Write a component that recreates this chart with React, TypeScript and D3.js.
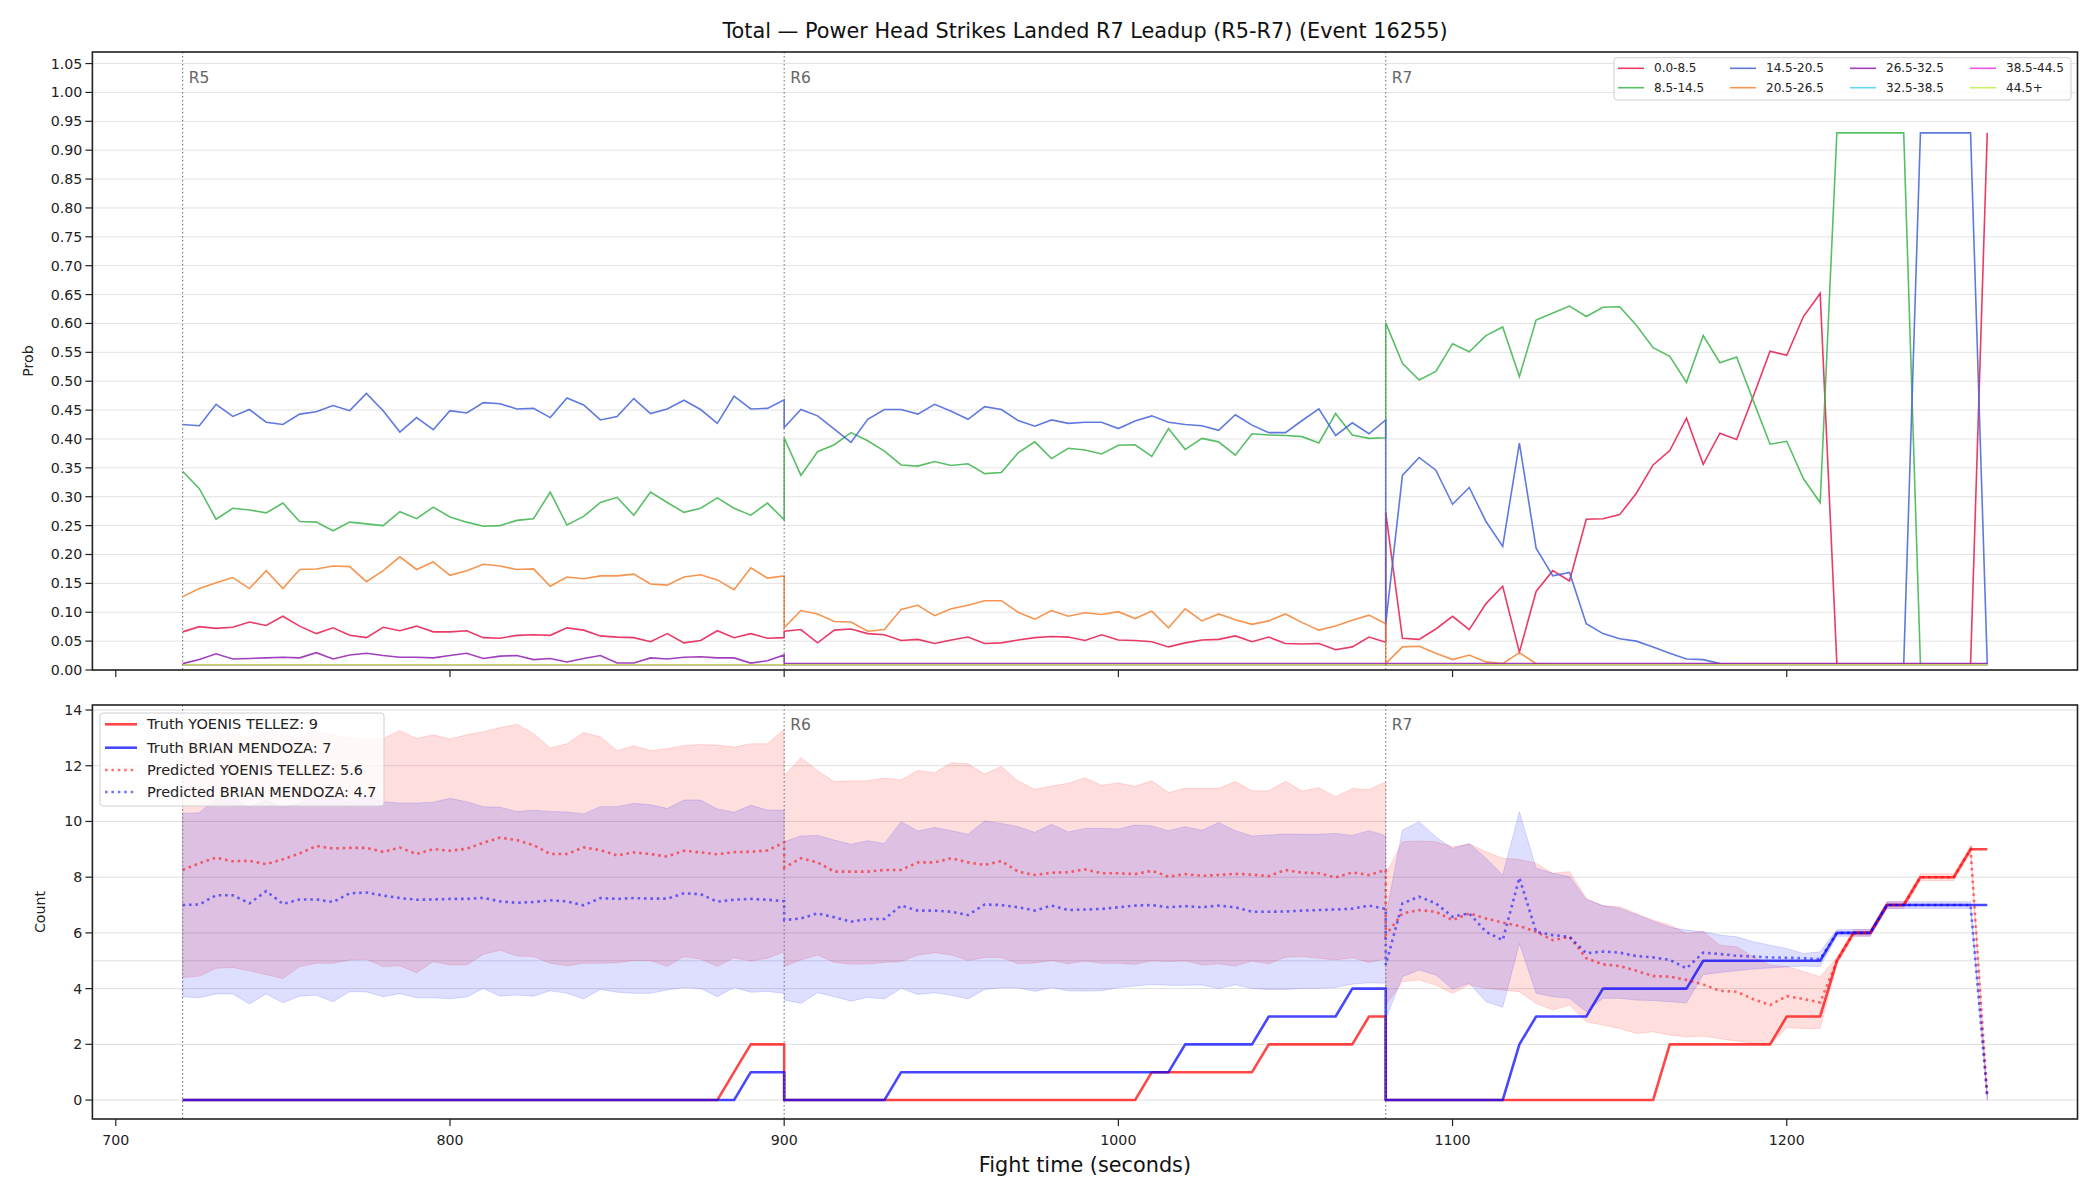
import * as d3 from "d3";

const chartTitle = "Total — Power Head Strikes Landed R7 Leadup (R5-R7) (Event 16255)";
const roundNames = ["R5", "R6", "R7"];
const roundStarts = [720, 900, 1080];
const stepSeconds = 5;
const samplesPerRound = 37;

const bucketNames = ["0.0-8.5", "8.5-14.5", "14.5-20.5", "20.5-26.5", "26.5-32.5", "32.5-38.5", "38.5-44.5", "44.5+"];
const bucketColors = ["#e6194b", "#3cb44b", "#4363d8", "#f58231", "#911eb4", "#42d4f4", "#f032e6", "#bfef45"];

// bucket probabilities, 5 s samples, one array per round
const prob0to8_r5 = [0.066, 0.075, 0.072, 0.074, 0.083, 0.077, 0.093, 0.076, 0.063, 0.073, 0.060, 0.056, 0.074, 0.068, 0.076, 0.066, 0.066, 0.068, 0.056, 0.055, 0.060, 0.061, 0.060, 0.073, 0.069, 0.059, 0.057, 0.056, 0.049, 0.063, 0.047, 0.051, 0.068, 0.056, 0.063, 0.055, 0.056];
const prob0to8_r6 = [0.067, 0.070, 0.047, 0.069, 0.071, 0.063, 0.061, 0.051, 0.053, 0.046, 0.052, 0.057, 0.046, 0.047, 0.052, 0.056, 0.058, 0.057, 0.051, 0.061, 0.052, 0.051, 0.049, 0.040, 0.047, 0.052, 0.053, 0.059, 0.049, 0.057, 0.046, 0.045, 0.046, 0.035, 0.040, 0.057, 0.048];
const prob0to8_r7 = [0.273, 0.055, 0.053, 0.071, 0.093, 0.070, 0.115, 0.145, 0.031, 0.136, 0.172, 0.154, 0.261, 0.262, 0.269, 0.306, 0.355, 0.380, 0.436, 0.356, 0.410, 0.399, 0.474, 0.552, 0.545, 0.612, 0.652, 0.010, 0.010, 0.010, 0.010, 0.010, 0.010, 0.010, 0.010, 0.010, 0.930];

const prob8to14_r5 = [0.344, 0.314, 0.261, 0.280, 0.277, 0.272, 0.289, 0.257, 0.256, 0.241, 0.256, 0.253, 0.250, 0.274, 0.262, 0.282, 0.265, 0.256, 0.249, 0.250, 0.259, 0.262, 0.308, 0.251, 0.266, 0.290, 0.299, 0.268, 0.308, 0.290, 0.273, 0.280, 0.298, 0.280, 0.268, 0.289, 0.260];
const prob8to14_r6 = [0.402, 0.337, 0.378, 0.390, 0.411, 0.397, 0.379, 0.355, 0.353, 0.361, 0.354, 0.357, 0.340, 0.342, 0.376, 0.395, 0.366, 0.384, 0.381, 0.374, 0.389, 0.390, 0.370, 0.418, 0.382, 0.401, 0.395, 0.372, 0.409, 0.407, 0.406, 0.404, 0.393, 0.444, 0.407, 0.401, 0.402];
const prob8to14_r7 = [0.601, 0.531, 0.502, 0.517, 0.565, 0.551, 0.579, 0.594, 0.508, 0.606, 0.618, 0.630, 0.612, 0.628, 0.629, 0.597, 0.558, 0.543, 0.498, 0.579, 0.532, 0.542, 0.466, 0.391, 0.396, 0.331, 0.290, 0.930, 0.930, 0.930, 0.930, 0.930, 0.010, 0.010, 0.010, 0.010, 0.010];

const prob14to20_r5 = [0.425, 0.423, 0.460, 0.439, 0.451, 0.429, 0.425, 0.443, 0.447, 0.458, 0.449, 0.479, 0.449, 0.412, 0.437, 0.416, 0.449, 0.445, 0.463, 0.461, 0.452, 0.453, 0.437, 0.471, 0.459, 0.433, 0.439, 0.470, 0.444, 0.452, 0.467, 0.451, 0.427, 0.474, 0.452, 0.453, 0.468];
const prob14to20_r6 = [0.420, 0.451, 0.440, 0.417, 0.394, 0.434, 0.451, 0.451, 0.443, 0.460, 0.448, 0.434, 0.456, 0.451, 0.432, 0.422, 0.433, 0.427, 0.429, 0.429, 0.418, 0.431, 0.440, 0.429, 0.425, 0.423, 0.415, 0.442, 0.424, 0.411, 0.411, 0.432, 0.452, 0.406, 0.428, 0.409, 0.433];
const prob14to20_r7 = [0.080, 0.337, 0.368, 0.346, 0.287, 0.316, 0.257, 0.214, 0.393, 0.211, 0.163, 0.169, 0.080, 0.063, 0.054, 0.050, 0.040, 0.029, 0.019, 0.018, 0.011, 0.010, 0.010, 0.010, 0.010, 0.010, 0.010, 0.010, 0.010, 0.010, 0.010, 0.010, 0.930, 0.930, 0.930, 0.930, 0.010];

const prob20to26_r5 = [0.127, 0.141, 0.151, 0.160, 0.141, 0.172, 0.141, 0.174, 0.175, 0.180, 0.179, 0.153, 0.172, 0.196, 0.174, 0.187, 0.164, 0.172, 0.183, 0.180, 0.174, 0.175, 0.145, 0.161, 0.158, 0.163, 0.163, 0.166, 0.149, 0.147, 0.161, 0.165, 0.156, 0.139, 0.177, 0.159, 0.163];
const prob20to26_r6 = [0.073, 0.103, 0.097, 0.084, 0.083, 0.067, 0.070, 0.105, 0.112, 0.094, 0.106, 0.112, 0.120, 0.120, 0.100, 0.088, 0.103, 0.093, 0.099, 0.096, 0.101, 0.089, 0.102, 0.073, 0.106, 0.085, 0.097, 0.087, 0.079, 0.085, 0.097, 0.082, 0.069, 0.076, 0.086, 0.095, 0.080];
const prob20to26_r7 = [0.011, 0.040, 0.041, 0.029, 0.018, 0.026, 0.014, 0.011, 0.030, 0.011, 0.010, 0.010, 0.010, 0.010, 0.010, 0.010, 0.010, 0.010, 0.010, 0.010, 0.010, 0.010, 0.010, 0.010, 0.010, 0.010, 0.010, 0.010, 0.010, 0.010, 0.010, 0.010, 0.010, 0.010, 0.010, 0.010, 0.010];

const prob26to32_r5 = [0.011, 0.018, 0.028, 0.019, 0.020, 0.021, 0.022, 0.021, 0.030, 0.019, 0.026, 0.029, 0.025, 0.022, 0.022, 0.021, 0.025, 0.029, 0.020, 0.024, 0.025, 0.018, 0.020, 0.014, 0.020, 0.025, 0.012, 0.012, 0.021, 0.019, 0.022, 0.023, 0.021, 0.021, 0.012, 0.016, 0.026];
const prob26to32_late = [0.011, 0.011, 0.011, 0.011, 0.011, 0.011, 0.011, 0.011, 0.011, 0.011, 0.011, 0.011, 0.011, 0.011, 0.011, 0.011, 0.011, 0.011, 0.011, 0.011, 0.011, 0.011, 0.011, 0.011, 0.011, 0.011, 0.011, 0.011, 0.011, 0.011, 0.011, 0.011, 0.011, 0.011, 0.011, 0.011, 0.011];
const probHighBuckets = [0.009, 0.009, 0.009, 0.009, 0.009, 0.009, 0.009, 0.009, 0.009, 0.009, 0.009, 0.009, 0.009, 0.009, 0.009, 0.009, 0.009, 0.009, 0.009, 0.009, 0.009, 0.009, 0.009, 0.009, 0.009, 0.009, 0.009, 0.009, 0.009, 0.009, 0.009, 0.009, 0.009, 0.009, 0.009, 0.009, 0.009];

// cumulative counts per round
const fighterNames = ["YOENIS TELLEZ", "BRIAN MENDOZA"];
const finalTruth = [9, 7];
const finalPredicted = [5.6, 4.7];

const truthTellez_r5 = [0, 0, 0, 0, 0, 0, 0, 0, 0, 0, 0, 0, 0, 0, 0, 0, 0, 0, 0, 0, 0, 0, 0, 0, 0, 0, 0, 0, 0, 0, 0, 0, 0, 1, 2, 2, 2];
const truthTellez_r6 = [0, 0, 0, 0, 0, 0, 0, 0, 0, 0, 0, 0, 0, 0, 0, 0, 0, 0, 0, 0, 0, 0, 1, 1, 1, 1, 1, 1, 1, 2, 2, 2, 2, 2, 2, 3, 3];
const truthTellez_r7 = [0, 0, 0, 0, 0, 0, 0, 0, 0, 0, 0, 0, 0, 0, 0, 0, 0, 2, 2, 2, 2, 2, 2, 2, 3, 3, 3, 5, 6, 6, 7, 7, 8, 8, 8, 9, 9];
const truthMendoza_r5 = [0, 0, 0, 0, 0, 0, 0, 0, 0, 0, 0, 0, 0, 0, 0, 0, 0, 0, 0, 0, 0, 0, 0, 0, 0, 0, 0, 0, 0, 0, 0, 0, 0, 0, 1, 1, 1];
const truthMendoza_r6 = [0, 0, 0, 0, 0, 0, 0, 1, 1, 1, 1, 1, 1, 1, 1, 1, 1, 1, 1, 1, 1, 1, 1, 1, 2, 2, 2, 2, 2, 3, 3, 3, 3, 3, 4, 4, 4];
const truthMendoza_r7 = [0, 0, 0, 0, 0, 0, 0, 0, 2, 3, 3, 3, 3, 4, 4, 4, 4, 4, 4, 5, 5, 5, 5, 5, 5, 5, 5, 6, 6, 6, 7, 7, 7, 7, 7, 7, 7];

const predTellez_r5 = [8.26, 8.50, 8.70, 8.57, 8.59, 8.47, 8.64, 8.85, 9.12, 9.03, 9.05, 9.05, 8.91, 9.06, 8.83, 9.01, 8.95, 9.02, 9.24, 9.42, 9.33, 9.15, 8.83, 8.83, 9.07, 8.97, 8.78, 8.89, 8.83, 8.74, 8.95, 8.89, 8.82, 8.90, 8.91, 8.96, 9.25];
const predTellez_r6 = [8.34, 8.68, 8.53, 8.20, 8.20, 8.20, 8.26, 8.26, 8.53, 8.53, 8.68, 8.53, 8.44, 8.58, 8.20, 8.08, 8.16, 8.18, 8.28, 8.14, 8.14, 8.11, 8.23, 8.02, 8.11, 8.05, 8.08, 8.12, 8.09, 8.04, 8.26, 8.16, 8.14, 7.99, 8.17, 8.08, 8.26];
const predTellez_r7 = [5.92, 6.70, 6.82, 6.76, 6.46, 6.70, 6.52, 6.37, 6.25, 6.04, 5.74, 5.86, 5.09, 4.87, 4.81, 4.64, 4.45, 4.43, 4.31, 4.15, 3.92, 3.89, 3.62, 3.41, 3.73, 3.63, 3.50, 5.00, 6.00, 6.00, 7.00, 7.00, 8.00, 8.00, 8.00, 9.00, 0.12];
const predMendoza_r5 = [7.00, 7.02, 7.35, 7.35, 7.06, 7.50, 7.04, 7.20, 7.20, 7.11, 7.42, 7.45, 7.34, 7.25, 7.19, 7.20, 7.22, 7.22, 7.26, 7.13, 7.08, 7.11, 7.17, 7.13, 6.99, 7.25, 7.22, 7.25, 7.23, 7.23, 7.42, 7.39, 7.12, 7.19, 7.22, 7.19, 7.14];
const predMendoza_r6 = [6.46, 6.52, 6.70, 6.56, 6.40, 6.50, 6.50, 6.98, 6.80, 6.80, 6.76, 6.64, 7.02, 7.00, 6.92, 6.80, 6.98, 6.82, 6.84, 6.86, 6.92, 6.98, 7.00, 6.92, 6.96, 6.92, 6.98, 6.92, 6.76, 6.76, 6.77, 6.80, 6.82, 6.84, 6.87, 6.98, 6.86];
const predMendoza_r7 = [4.85, 7.06, 7.30, 7.06, 6.58, 6.70, 6.04, 5.74, 7.98, 6.04, 5.92, 5.86, 5.27, 5.33, 5.29, 5.17, 5.12, 5.03, 4.73, 5.29, 5.24, 5.18, 5.15, 5.12, 5.11, 5.09, 5.06, 6.00, 6.00, 6.00, 7.00, 7.00, 7.00, 7.00, 7.00, 7.00, 0.12];

const tellezHi_r5 = [12.90, 12.95, 13.10, 13.15, 13.00, 13.20, 13.10, 13.00, 13.25, 13.10, 13.00, 12.95, 12.98, 13.26, 12.98, 13.11, 12.96, 13.11, 13.22, 13.37, 13.49, 13.16, 12.64, 12.79, 13.19, 13.04, 12.54, 12.72, 12.55, 12.61, 12.73, 12.76, 12.74, 12.67, 12.79, 12.79, 13.31];
const tellezHi_r6 = [11.63, 12.30, 11.82, 11.43, 11.46, 11.46, 11.56, 11.49, 11.83, 11.75, 12.11, 12.07, 11.70, 11.97, 11.45, 11.15, 11.27, 11.37, 11.57, 11.30, 11.38, 11.26, 11.46, 11.04, 11.19, 11.19, 11.19, 11.43, 11.10, 11.10, 11.44, 11.09, 11.21, 10.89, 11.18, 11.15, 11.42];
const tellezHi_r7 = [8.10, 9.27, 9.30, 9.27, 9.09, 9.19, 8.91, 8.68, 8.64, 8.50, 8.14, 8.20, 7.24, 6.97, 6.94, 6.70, 6.46, 6.28, 5.98, 6.05, 5.56, 5.50, 5.14, 4.85, 4.79, 4.61, 4.43, 5.12, 6.12, 6.12, 7.12, 7.12, 8.12, 8.12, 8.12, 9.12, 0.24];
const tellezLo_r5 = [4.40, 4.45, 4.73, 4.76, 4.64, 4.50, 4.36, 4.79, 4.91, 4.91, 5.03, 5.05, 4.79, 4.82, 4.57, 4.97, 4.85, 4.85, 5.23, 5.38, 5.17, 5.15, 4.91, 4.82, 4.91, 4.91, 4.93, 5.01, 5.01, 4.79, 5.15, 5.06, 4.79, 5.11, 4.99, 5.09, 5.32];
const tellezLo_r6 = [4.79, 5.03, 5.21, 4.94, 4.88, 4.88, 4.94, 4.97, 5.21, 5.29, 5.21, 5.01, 5.12, 5.12, 4.89, 4.92, 5.01, 4.89, 4.99, 4.91, 4.91, 4.87, 5.00, 4.97, 5.00, 4.85, 4.89, 4.81, 4.99, 4.89, 5.13, 5.15, 5.09, 5.03, 5.11, 4.94, 5.07];
const tellezLo_r7 = [3.40, 4.25, 4.31, 4.13, 3.83, 4.13, 4.01, 3.95, 3.89, 3.47, 3.23, 3.41, 2.81, 2.69, 2.57, 2.39, 2.45, 2.33, 2.27, 2.30, 2.20, 2.12, 2.04, 1.97, 2.60, 2.57, 2.57, 4.88, 5.88, 5.88, 6.88, 6.88, 7.88, 7.88, 7.88, 8.88, 0.00];
const mendozaHi_r5 = [10.29, 10.31, 10.83, 10.85, 10.51, 10.77, 10.51, 10.65, 10.89, 10.95, 10.71, 10.91, 10.71, 10.66, 10.66, 10.69, 10.83, 10.71, 10.53, 10.51, 10.36, 10.40, 10.36, 10.34, 10.27, 10.53, 10.53, 10.65, 10.60, 10.47, 10.77, 10.77, 10.45, 10.33, 10.58, 10.41, 10.41];
const mendozaHi_r6 = [9.27, 9.48, 9.50, 9.33, 9.18, 9.31, 9.21, 9.99, 9.66, 9.78, 9.67, 9.54, 10.02, 9.93, 9.81, 9.61, 9.90, 9.62, 9.75, 9.75, 9.73, 9.87, 9.84, 9.67, 9.81, 9.68, 9.96, 9.67, 9.48, 9.51, 9.55, 9.54, 9.54, 9.57, 9.50, 9.67, 9.49];
const mendozaHi_r7 = [6.60, 9.69, 9.99, 9.45, 9.03, 9.21, 8.68, 8.08, 10.35, 8.32, 8.14, 8.02, 7.20, 6.98, 6.88, 6.66, 6.42, 6.20, 6.10, 6.04, 5.92, 5.86, 5.68, 5.56, 5.44, 5.26, 5.32, 6.12, 6.12, 6.12, 7.12, 7.12, 7.12, 7.12, 7.12, 7.12, 0.24];
const mendozaLo_r5 = [3.71, 3.67, 3.81, 3.81, 3.45, 3.81, 3.49, 3.73, 3.76, 3.53, 3.89, 3.88, 3.71, 3.82, 3.67, 3.67, 3.64, 3.70, 4.00, 3.73, 3.77, 3.73, 3.92, 3.83, 3.63, 3.97, 3.87, 3.83, 3.83, 3.95, 4.04, 4.00, 3.71, 4.04, 3.87, 3.90, 3.83];
const mendozaLo_r6 = [3.59, 3.47, 3.85, 3.71, 3.55, 3.69, 3.63, 4.01, 3.79, 3.85, 3.76, 3.63, 3.97, 4.03, 4.03, 3.90, 4.04, 3.92, 3.91, 3.92, 4.04, 4.09, 4.15, 4.12, 4.12, 4.13, 4.00, 4.14, 4.00, 3.97, 3.97, 4.01, 4.01, 4.04, 4.16, 4.21, 4.19];
const mendozaLo_r7 = [2.90, 4.43, 4.67, 4.49, 3.98, 4.19, 3.53, 3.33, 5.62, 3.83, 3.71, 3.65, 3.17, 3.65, 3.65, 3.59, 3.57, 3.53, 3.49, 4.50, 4.58, 4.64, 4.70, 4.74, 4.78, 4.81, 4.79, 5.88, 5.88, 5.88, 6.88, 6.88, 6.88, 6.88, 6.88, 6.88, 0.00];

const countRefLines = [5];

const probTicks = d3.range(0, 22).map((i) => i * 0.05);
const countTicks = [0, 2, 4, 6, 8, 10, 12, 14];
const timeTicks = [700, 800, 900, 1000, 1100, 1200];

const times = roundStarts.flatMap((s) => d3.range(samplesPerRound).map((i) => s + i * stepSeconds));

const bucketSeries = [
  [prob0to8_r5, prob0to8_r6, prob0to8_r7],
  [prob8to14_r5, prob8to14_r6, prob8to14_r7],
  [prob14to20_r5, prob14to20_r6, prob14to20_r7],
  [prob20to26_r5, prob20to26_r6, prob20to26_r7],
  [prob26to32_r5, prob26to32_late, prob26to32_late],
  [probHighBuckets, probHighBuckets, probHighBuckets],
  [probHighBuckets, probHighBuckets, probHighBuckets],
  [probHighBuckets, probHighBuckets, probHighBuckets],
].map((r) => r.flat());

const truthTellez = [truthTellez_r5, truthTellez_r6, truthTellez_r7].flat();
const truthMendoza = [truthMendoza_r5, truthMendoza_r6, truthMendoza_r7].flat();
const predTellez = [predTellez_r5, predTellez_r6, predTellez_r7].flat();
const predMendoza = [predMendoza_r5, predMendoza_r6, predMendoza_r7].flat();
const tellezHi = [tellezHi_r5, tellezHi_r6, tellezHi_r7].flat();
const tellezLo = [tellezLo_r5, tellezLo_r6, tellezLo_r7].flat();
const mendozaHi = [mendozaHi_r5, mendozaHi_r6, mendozaHi_r7].flat();
const mendozaLo = [mendozaLo_r5, mendozaLo_r6, mendozaLo_r7].flat();

const FONT = "DejaVu Sans, sans-serif";
const plotLeft = 92.4;
const plotRight = 2077.5;
const top1 = 52, bottom1 = 670;
const top2 = 705, bottom2 = 1119;

const x = d3.scaleLinear().domain([693, 1287]).range([plotLeft, plotRight]);
const yProb = d3.scaleLinear().domain([0, 1.07]).range([bottom1, top1]);
const yCount = d3.scaleLinear().domain([-0.68, 14.18]).range([bottom2, top2]);

const lineOf = (vals: number[], y: d3.ScaleLinear<number, number>) =>
  d3.line<number>().x((_, i) => x(times[i])).y((d) => y(d))(vals) || "";

const bandOf = (lo: number[], hi: number[]) =>
  d3.area<number>().x((_, i) => x(times[i])).y0((_, i) => yCount(lo[i])).y1((_, i) => yCount(hi[i]))(lo) || "";

const Frame = ({ top, bottom }: { top: number; bottom: number }) => (
  <rect x={plotLeft} y={top} width={plotRight - plotLeft} height={bottom - top} fill="none" stroke="#222" strokeWidth={1.6} />
);

export default function App() {
  const fmtProb = d3.format(".2f");
  const legendCols = [1618, 1730, 1850, 1970];
  const legendRows = [68.3, 87.7];
  const bottomRows = [724.3, 747.7, 770, 792];
  const bottomLegend = [
    { label: `Truth ${fighterNames[0]}: ${finalTruth[0]}`, color: "#ff0000", dotted: false },
    { label: `Truth ${fighterNames[1]}: ${finalTruth[1]}`, color: "#0000ff", dotted: false },
    { label: `Predicted ${fighterNames[0]}: ${finalPredicted[0]}`, color: "#ff0000", dotted: true },
    { label: `Predicted ${fighterNames[1]}: ${finalPredicted[1]}`, color: "#0000ff", dotted: true },
  ];

  return (
    <svg width={2100} height={1200} style={{ position: "absolute", left: 0, top: 0, background: "#fff" }} fontFamily={FONT}>
      <rect width={2100} height={1200} fill="#fff" />
      <text x={(plotLeft + plotRight) / 2} y={31} fontSize={20.8} textAnchor="middle" dominantBaseline="central" fill="#111">{chartTitle}</text>

      {/* top panel */}
      <defs>
        <clipPath id="clipTop"><rect x={plotLeft} y={top1} width={plotRight - plotLeft} height={bottom1 - top1} /></clipPath>
        <clipPath id="clipBot"><rect x={plotLeft} y={top2} width={plotRight - plotLeft} height={bottom2 - top2} /></clipPath>
      </defs>
      {probTicks.map((t) => (
        <line key={t} x1={plotLeft} x2={plotRight} y1={yProb(t)} y2={yProb(t)} stroke="#e3e3e3" strokeWidth={1} />
      ))}
      <g clipPath="url(#clipTop)">
        {bucketSeries.map((vals, k) => (
          <path key={k} d={lineOf(vals, yProb)} fill="none" stroke={bucketColors[k]} strokeOpacity={0.85} strokeWidth={1.6} />
        ))}
      </g>
      {roundStarts.map((s, i) => (
        <g key={s}>
          <line x1={x(s)} x2={x(s)} y1={top1} y2={bottom1} stroke="#777" strokeWidth={1.1} strokeDasharray="1.5 2.5" />
          <text x={x(s) + 6} y={78} fontSize={15.5} fill="#666" dominantBaseline="central">{roundNames[i]}</text>
        </g>
      ))}
      <Frame top={top1} bottom={bottom1} />
      {probTicks.map((t) => (
        <g key={t}>
          <line x1={plotLeft - 7} x2={plotLeft} y1={yProb(t)} y2={yProb(t)} stroke="#222" strokeWidth={1.2} />
          <text x={plotLeft - 10} y={yProb(t)} fontSize={14.2} textAnchor="end" dominantBaseline="central" fill="#222">{fmtProb(t)}</text>
        </g>
      ))}
      {timeTicks.map((t) => (
        <line key={t} x1={x(t)} x2={x(t)} y1={bottom1} y2={bottom1 + 7} stroke="#222" strokeWidth={1.2} />
      ))}
      <text transform={`translate(28,${(top1 + bottom1) / 2}) rotate(-90)`} fontSize={14.2} textAnchor="middle" dominantBaseline="central" fill="#222">Prob</text>

      {/* top legend */}
      <rect x={1614} y={57.7} width={457} height={42.3} rx={3} fill="#fff" fillOpacity={0.8} stroke="#d0d0d0" strokeWidth={1} />
      {bucketNames.map((name, k) => {
        const cx = legendCols[Math.floor(k / 2)];
        const cy = legendRows[k % 2];
        return (
          <g key={name}>
            <line x1={cx} x2={cx + 26} y1={cy} y2={cy} stroke={bucketColors[k]} strokeOpacity={0.85} strokeWidth={1.6} />
            <text x={cx + 36} y={cy} fontSize={12} dominantBaseline="central" fill="#222">{name}</text>
          </g>
        );
      })}

      {/* bottom panel */}
      {countTicks.concat(countRefLines).map((t) => (
        <line key={`g${t}`} x1={plotLeft} x2={plotRight} y1={yCount(t)} y2={yCount(t)} stroke="#e0e0e0" strokeWidth={1} />
      ))}
      <g clipPath="url(#clipBot)">
        <path d={bandOf(tellezLo, tellezHi)} fill="#ff0000" fillOpacity={0.13} stroke="#ff0000" strokeOpacity={0.13} strokeWidth={1} />
        <path d={bandOf(mendozaLo, mendozaHi)} fill="#0000ff" fillOpacity={0.13} stroke="#0000ff" strokeOpacity={0.13} strokeWidth={1} />
        <path d={lineOf(truthTellez, yCount)} fill="none" stroke="#ff0000" strokeOpacity={0.72} strokeWidth={2.6} strokeLinejoin="round" />
        <path d={lineOf(truthMendoza, yCount)} fill="none" stroke="#0000ff" strokeOpacity={0.72} strokeWidth={2.6} strokeLinejoin="round" />
        <path d={lineOf(predTellez, yCount)} fill="none" stroke="#ff0000" strokeOpacity={0.55} strokeWidth={2.6} strokeDasharray="2.6 3.8" />
        <path d={lineOf(predMendoza, yCount)} fill="none" stroke="#0000ff" strokeOpacity={0.55} strokeWidth={2.6} strokeDasharray="2.6 3.8" />
      </g>
      {roundStarts.map((s, i) => (
        <g key={`b${s}`}>
          <line x1={x(s)} x2={x(s)} y1={top2} y2={bottom2} stroke="#777" strokeWidth={1.1} strokeDasharray="1.5 2.5" />
          {/* the R5 tag of this panel sits under the legend in the reference */}
          {i > 0 && (
            <text x={x(s) + 6} y={725} fontSize={15.5} fill="#666" dominantBaseline="central">{roundNames[i]}</text>
          )}
        </g>
      ))}
      <Frame top={top2} bottom={bottom2} />
      {countTicks.map((t) => (
        <g key={`c${t}`}>
          <line x1={plotLeft - 7} x2={plotLeft} y1={yCount(t)} y2={yCount(t)} stroke="#222" strokeWidth={1.2} />
          <text x={plotLeft - 10} y={yCount(t)} fontSize={14.2} textAnchor="end" dominantBaseline="central" fill="#222">{t}</text>
        </g>
      ))}
      {timeTicks.map((t) => (
        <g key={`x${t}`}>
          <line x1={x(t)} x2={x(t)} y1={bottom2} y2={bottom2 + 7} stroke="#222" strokeWidth={1.2} />
          <text x={x(t)} y={1140} fontSize={14.2} textAnchor="middle" dominantBaseline="central" fill="#222">{t}</text>
        </g>
      ))}
      <text transform={`translate(40,${(top2 + bottom2) / 2}) rotate(-90)`} fontSize={14.2} textAnchor="middle" dominantBaseline="central" fill="#222">Count</text>
      <text x={(plotLeft + plotRight) / 2} y={1165} fontSize={20.8} textAnchor="middle" dominantBaseline="central" fill="#111">Fight time (seconds)</text>

      {/* bottom legend */}
      <rect x={100} y={713} width={284} height={93} rx={3} fill="#fff" fillOpacity={0.8} stroke="#d0d0d0" strokeWidth={1} />
      {bottomLegend.map((e, k) => (
        <g key={e.label}>
          <line x1={105} x2={137} y1={bottomRows[k]} y2={bottomRows[k]} stroke={e.color}
            strokeOpacity={e.dotted ? 0.55 : 0.72} strokeWidth={2.6} strokeDasharray={e.dotted ? "2.6 3.8" : undefined} />
          <text x={147} y={bottomRows[k]} fontSize={14.5} dominantBaseline="central" fill="#222">{e.label}</text>
        </g>
      ))}
    </svg>
  );
}
